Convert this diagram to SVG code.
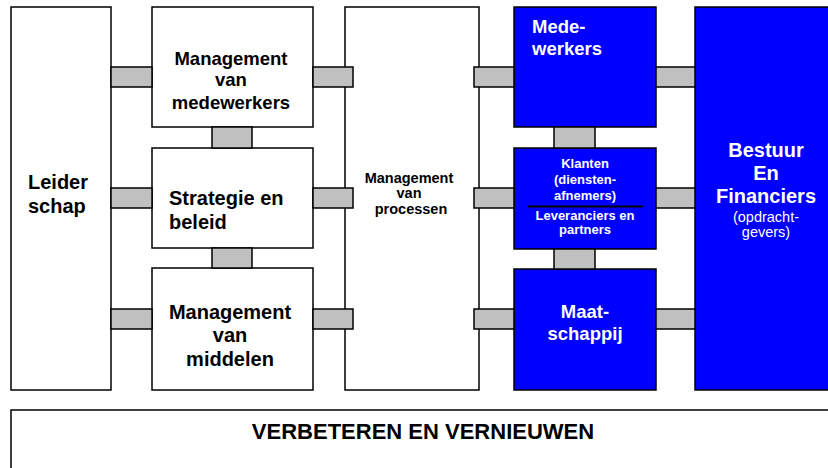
<svg xmlns="http://www.w3.org/2000/svg" width="828" height="468" viewBox="0 0 828 468">
<style>
.w{fill:#ffffff;stroke:#000;stroke-width:1.5}
.b{fill:#0000ff;stroke:#000;stroke-width:1.5}
.c{fill:#c0c0c0;stroke:#000;stroke-width:1.5}
text{font-family:"Liberation Sans",Arial,sans-serif;font-weight:bold;fill:#000}
.wt{fill:#fff}
.m{text-anchor:middle}
.r{font-weight:normal}
</style>
<rect width="828" height="468" fill="#fff"/>
<g id="leiderschap">
<rect class="w" x="11" y="7" width="100" height="383"/>
<text x="28" y="189" font-size="20">Leider</text>
<text x="28" y="213" font-size="20">schap</text>
</g>
<g id="mgmt-medewerkers">
<rect class="w" x="152" y="7" width="161" height="120"/>
<text class="m" x="231" y="65" font-size="18.5">Management</text>
<text class="m" x="231" y="86" font-size="18.5">van</text>
<text class="m" x="231" y="109" font-size="18.5">medewerkers</text>
</g>
<g id="strategie">
<rect class="w" x="152" y="148" width="161" height="100"/>
<text x="169" y="205" font-size="20">Strategie en</text>
<text x="169" y="229" font-size="20">beleid</text>
</g>
<g id="mgmt-middelen">
<rect class="w" x="152" y="268" width="161" height="122"/>
<text class="m" x="230" y="319" font-size="20">Management</text>
<text class="m" x="230" y="342" font-size="20">van</text>
<text class="m" x="230" y="366" font-size="20">middelen</text>
</g>
<g id="mgmt-processen">
<rect class="w" x="345" y="7" width="134" height="383"/>
<text class="m" x="409" y="183" font-size="14.5">Management</text>
<text class="m" x="409" y="198" font-size="14.5">van</text>
<text class="m" x="411" y="214" font-size="14.5">processen</text>
</g>
<g id="medewerkers">
<rect class="b" x="514" y="7" width="142" height="120"/>
<text class="wt" x="532" y="33" font-size="18.5">Mede-</text>
<text class="wt" x="532" y="55" font-size="18.5">werkers</text>
</g>
<g id="klanten">
<rect class="b" x="514" y="148" width="142" height="101"/>
<text class="wt m" x="585" y="168" font-size="13">Klanten</text>
<text class="wt m" x="585" y="184" font-size="13">(diensten-</text>
<text class="wt m" x="585" y="200" font-size="13">afnemers)</text>
<line x1="528" y1="206.5" x2="643" y2="206.5" stroke="#000" stroke-width="2"/>
<text class="wt m" x="585" y="220" font-size="13">Leveranciers en</text>
<text class="wt m" x="585" y="234" font-size="13">partners</text>
</g>
<g id="maatschappij">
<rect class="b" x="514" y="269" width="142" height="121"/>
<text class="wt m" x="585" y="318" font-size="18.5">Maat-</text>
<text class="wt m" x="585" y="340" font-size="18.5">schappij</text>
</g>
<g id="bestuur">
<rect class="b" x="695" y="7" width="140" height="383"/>
<text class="wt m" x="766" y="157" font-size="20">Bestuur</text>
<text class="wt m" x="766" y="180" font-size="20">En</text>
<text class="wt m" x="766" y="203" font-size="20">Financiers</text>
<text class="wt m r" x="766" y="222" font-size="14.5">(opdracht-</text>
<text class="wt m r" x="766" y="237" font-size="14.5">gevers)</text>
</g>
<g id="verbeteren">
<rect class="w" x="11" y="410" width="830" height="70"/>
<text class="m" x="423" y="439" font-size="22">VERBETEREN EN VERNIEUWEN</text>
</g>
<g id="connectors">
<rect class="c" x="111" y="67" width="41" height="20"/>
<rect class="c" x="111" y="188" width="41" height="20"/>
<rect class="c" x="111" y="309" width="41" height="20"/>
<rect class="c" x="313" y="67" width="40" height="20"/>
<rect class="c" x="313" y="188" width="40" height="20"/>
<rect class="c" x="313" y="309" width="40" height="20"/>
<rect class="c" x="474" y="67" width="40" height="20"/>
<rect class="c" x="474" y="188" width="40" height="20"/>
<rect class="c" x="474" y="309" width="40" height="20"/>
<rect class="c" x="656" y="67" width="39" height="20"/>
<rect class="c" x="656" y="188" width="39" height="20"/>
<rect class="c" x="656" y="309" width="39" height="20"/>
<rect class="c" x="212" y="127" width="40" height="21"/>
<rect class="c" x="212" y="248" width="40" height="20"/>
<rect class="c" x="554" y="127" width="41" height="21"/>
<rect class="c" x="554" y="249" width="41" height="20"/>
</g>
</svg>
